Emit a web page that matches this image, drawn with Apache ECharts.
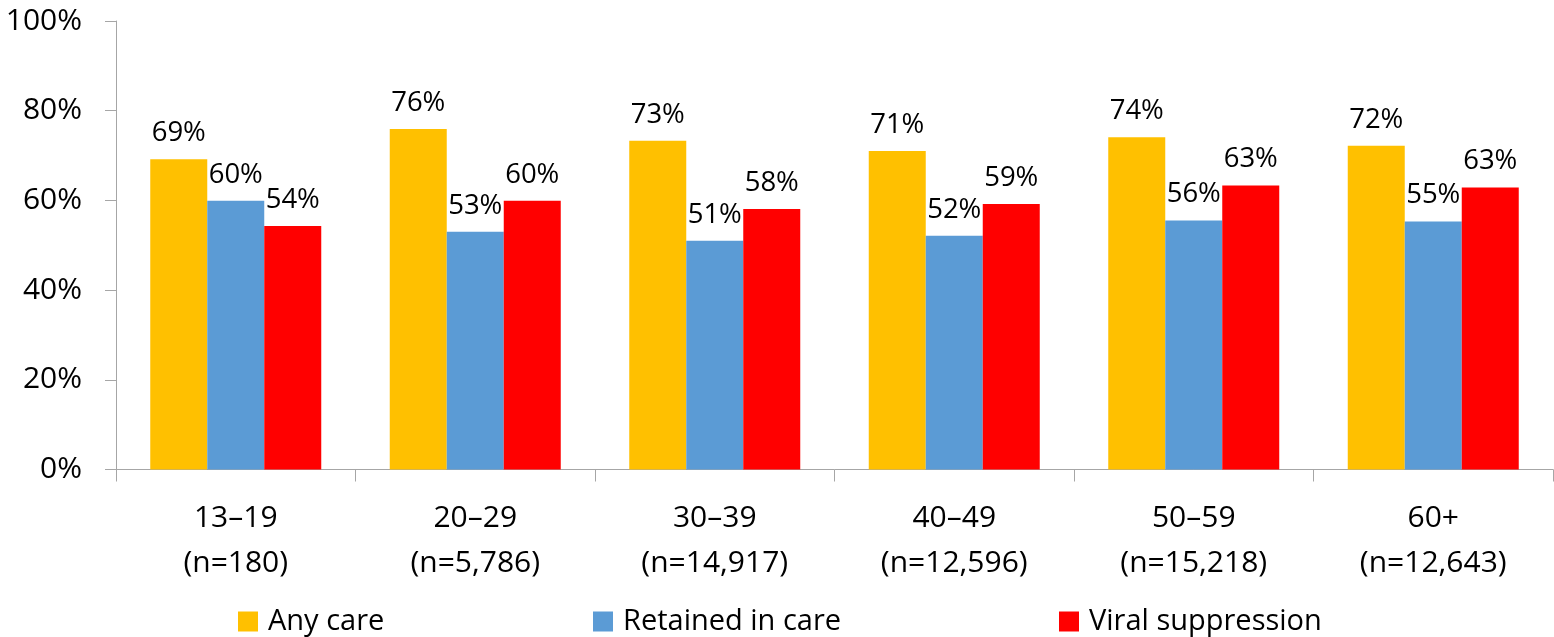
<!DOCTYPE html>
<html>
<head>
<meta charset="utf-8">
<script src="https://cdn.jsdelivr.net/npm/echarts@6/dist/echarts.min.js"></script>
<style>
html,body{margin:0;padding:0;background:#fff;}
#chart{width:1554px;height:637px;}
</style>
</head>
<body>
<div id="chart"></div>
<script>
const ageGroups = ['13–19', '20–29', '30–39', '40–49', '50–59', '60+'];
const sampleSizes = ['n=180', 'n=5,786', 'n=14,917', 'n=12,596', 'n=15,218', 'n=12,643'];
const seriesNames = ['Any care', 'Retained in care', 'Viral suppression'];
const anyCare = [69.2, 75.9, 73.3, 71.0, 74.1, 72.2];
const retainedInCare = [59.9, 53.0, 51.0, 52.1, 55.5, 55.3];
const viralSuppression = [54.3, 59.9, 58.1, 59.2, 63.3, 62.9];
const yTicks = [0, 20, 40, 60, 80, 100];

const FONT = '"Open Sans", "Noto Sans", sans-serif';
const colors = ['#FFC000', '#5B9BD5', '#FF0000'];
const categories = ageGroups.map((g, i) => g + '\n(' + sampleSizes[i] + ')');

const chart = echarts.init(document.getElementById('chart'), null, {renderer: 'canvas'});

function makeSeries(name, data, color) {
  return {
    name: name,
    type: 'bar',
    data: data,
    barWidth: 57,
    barGap: '0%',
    itemStyle: {color: color},
    label: {
      show: true,
      position: 'top',
      distance: 12,
      formatter: p => Math.round(p.value) + '%',
      fontFamily: FONT,
      fontSize: 27.5,
      color: '#000'
    }
  };
}

function makeLegend(name, left) {
  return {
    data: [name],
    left: left,
    top: 607,
    itemWidth: 20,
    itemHeight: 20,
    icon: 'rect',
    padding: 0,
    textStyle: {
      fontFamily: FONT,
      fontSize: 29,
      color: '#000',
      lineHeight: 20,
      padding: [0, 0, 0, 5]
    }
  };
}

chart.setOption({
  animation: false,
  color: colors,
  grid: {left: 116, right: 1, top: 21, bottom: 167.5, containLabel: false},
  legend: [
    makeLegend(seriesNames[0], 238),
    makeLegend(seriesNames[1], 593),
    makeLegend(seriesNames[2], 1059)
  ],
  xAxis: {
    type: 'category',
    data: categories,
    axisLine: {show: true, lineStyle: {color: '#A6A6A6', width: 1}},
    axisTick: {show: true, length: 12, alignWithLabel: false, lineStyle: {color: '#A6A6A6'}},
    axisLabel: {
      fontFamily: FONT,
      fontSize: 30,
      color: '#000',
      lineHeight: 45,
      margin: 26,
      interval: 0
    }
  },
  yAxis: {
    type: 'value',
    min: yTicks[0],
    max: yTicks[yTicks.length - 1],
    interval: yTicks[1] - yTicks[0],
    splitLine: {show: false},
    axisLine: {show: true, lineStyle: {color: '#A6A6A6', width: 1}},
    axisTick: {show: true, length: 11, lineStyle: {color: '#A6A6A6'}},
    axisLabel: {
      fontFamily: FONT,
      fontSize: 30,
      color: '#000',
      margin: 34,
      formatter: v => v + '%'
    }
  },
  series: [
    makeSeries(seriesNames[0], anyCare, colors[0]),
    makeSeries(seriesNames[1], retainedInCare, colors[1]),
    makeSeries(seriesNames[2], viralSuppression, colors[2])
  ]
});
</script>
</body>
</html>
